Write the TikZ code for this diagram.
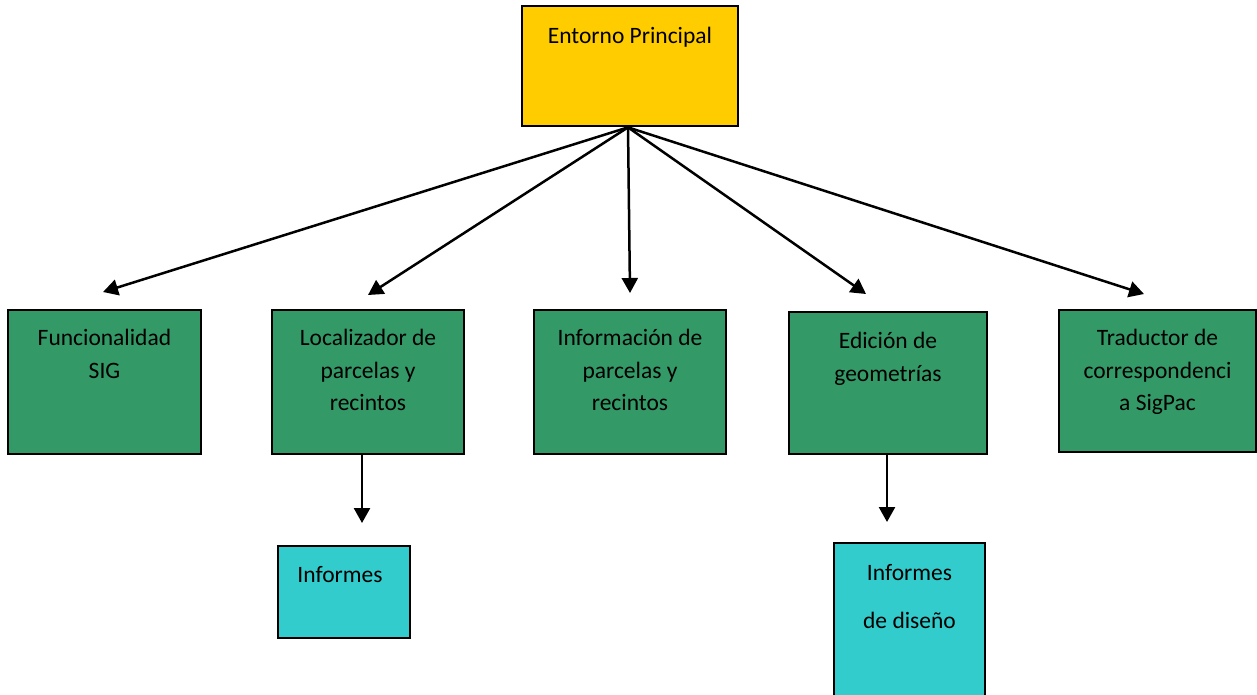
\documentclass[tikz,border=0pt]{standalone}
\usepackage{fontspec}
\setmainfont{Carlito}
\usetikzlibrary{arrows.meta, positioning}

\definecolor{amarillo}{HTML}{FFCC00}
\definecolor{verde}{HTML}{339966}
\definecolor{turquesa}{HTML}{33CCCC}

\begin{document}
\begin{tikzpicture}[x=1pt, y=-1pt]

\tikzset{
  caja/.style={rectangle, draw, line width=2.7pt, inner sep=0pt},
  texto/.style={anchor=north, align=center, inner sep=0pt, font=\fontsize{23.5}{32.5}\selectfont},
  flecha/.style={line width=2.5pt, -{Triangle[length=15pt, width=16pt]}}
}

\useasboundingbox (0,0) rectangle (1257,694);

% --- Cajas (con coordenadas absolutas, en px) ---
\node[caja, fill=amarillo, minimum width=216pt, minimum height=120pt] (ep) at (630,66) {};
\node[caja, fill=verde, minimum width=193pt, minimum height=144pt] (sig) at (104.5,382) {};
\node[caja, fill=verde, minimum width=192pt, minimum height=144pt] (loc) at (368,382) {};
\node[caja, fill=verde, minimum width=192pt, minimum height=144pt] (inf) at (630,382) {};
\node[caja, fill=verde, minimum width=198pt, minimum height=142pt] (edi) at (888,383) {};
\node[caja, fill=verde, minimum width=197pt, minimum height=142pt] (tra) at (1157.5,381) {};
\node[caja, fill=turquesa, minimum width=132pt, minimum height=92pt] (rep) at (344,592) {};
\node[caja, fill=turquesa, minimum width=151pt, minimum height=160pt] (dis) at (909.5,623) {};

% --- Textos ---
\node[texto] (ep-t) at (630,27) {Entorno Principal};
\node[texto] (sig-t) at (104.5,329) {Funcionalidad\\SIG};
\node[texto] (loc-t) at (368,329) {Localizador de\\parcelas y\\recintos};
\node[texto] (inf-t) at (630,329) {Información de\\parcelas y\\recintos};
\node[texto] (edi-t) at (888,332) {Edición de\\geometrías};
\node[texto] (tra-t) at (1157.5,329) {Traductor de\\correspondenci\\a SigPac};
\node[texto] (rep-t) at (340,566) {Informes};
\node[texto, font=\fontsize{23.5}{48}\selectfont] (dis-t) at (909.5,564) {Informes\\de diseño};

% --- Puntos de llegada de las flechas ---
\coordinate (a1) at (103,292);
\coordinate (a2) at (368,295);
\coordinate (a3) at (630,293);
\coordinate (a4) at (866,294);
\coordinate (a5) at (1144,294);
\coordinate (b2) at (362,523);
\coordinate (c2) at (887,522);

% --- Flechas ---
\draw[flecha] ([xshift=-2pt]ep.south) -- (a1);
\draw[flecha] ([xshift=-2pt]ep.south) -- (a2);
\draw[flecha] ([xshift=-2pt]ep.south) -- (a3);
\draw[flecha] ([xshift=-2pt]ep.south) -- (a4);
\draw[flecha] ([xshift=-2pt]ep.south) -- (a5);
\draw[flecha] ([xshift=-6pt]loc.south) -- (b2);
\draw[flecha] ([xshift=-1pt]edi.south) -- (c2);

\end{tikzpicture}
\end{document}
